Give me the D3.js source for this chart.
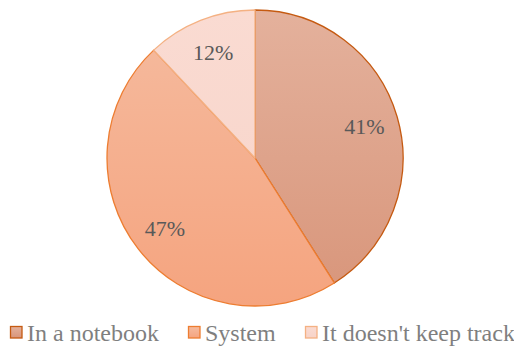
<!DOCTYPE html>
<html>
<head>
<meta charset="utf-8">
<script src="https://cdn.jsdelivr.net/npm/d3@7"></script>
<style>
  body { margin: 0; background: #fff; }
  svg { display: block; }
</style>
</head>
<body>
<div id="chart"></div>
<script>
// chart data
var categories = ["In a notebook", "System", "It doesn't keep track"];
var values = [41, 47, 12];
var labels = ["41%", "47%", "12%"];

var fillTop = ["#e4b19c", "#f5bb9f", "#fadbd2"];
var fillBottom = ["#d8957a", "#f5a47f", "#f7d3c8"];
var strokes = ["#c55a11", "#ed7d31", "#f4b183"];

var width = 514, height = 349;
var cx = 255, cy = 158, radius = 148;

var svg = d3.select("#chart")
            .append("svg")
            .attr("width", width)
            .attr("height", height);

var defs = svg.append("defs");
categories.forEach(function(c, i) {
  var g = defs.append("linearGradient")
              .attr("id", "grad" + i)
              .attr("gradientUnits", "userSpaceOnUse")
              .attr("x1", 0).attr("y1", -radius)
              .attr("x2", 0).attr("y2", radius);
  g.append("stop").attr("offset", "0%").attr("stop-color", fillTop[i]);
  g.append("stop").attr("offset", "100%").attr("stop-color", fillBottom[i]);

  var lg = defs.append("linearGradient")
              .attr("id", "lgrad" + i)
              .attr("x1", 0).attr("y1", 0)
              .attr("x2", 0).attr("y2", 1);
  lg.append("stop").attr("offset", "0%").attr("stop-color", fillTop[i]);
  lg.append("stop").attr("offset", "100%").attr("stop-color", fillBottom[i]);
});

var pie = d3.pie().sort(null).value(function(d) { return d; });
var arc = d3.arc().innerRadius(0).outerRadius(radius);
var labelArc = d3.arc().innerRadius(radius * 0.77).outerRadius(radius * 0.77);

var g = svg.append("g").attr("transform", "translate(" + cx + "," + cy + ")");
var arcs = pie(values);

g.selectAll("path")
  .data(arcs)
  .enter().append("path")
  .attr("d", arc)
  .attr("fill", function(d, i) { return "url(#grad" + i + ")"; })
  .attr("stroke", function(d, i) { return strokes[i]; })
  .attr("stroke-width", 1.3)
  .attr("stroke-linejoin", "round");

g.selectAll("text")
  .data(arcs)
  .enter().append("text")
  .attr("transform", function(d) { return "translate(" + labelArc.centroid(d) + ")"; })
  .attr("text-anchor", "middle")
  .attr("dy", "0.35em")
  .style("font-family", "'Liberation Serif', 'Times New Roman', serif")
  .style("font-size", "22px")
  .style("fill", "#595959")
  .text(function(d, i) { return labels[i]; });

// legend
var legendX = [10, 188, 305];
var legend = svg.append("g").selectAll("g")
  .data(categories)
  .enter().append("g")
  .attr("transform", function(d, i) { return "translate(" + legendX[i] + ",326)"; });

legend.append("rect")
  .attr("x", 0.5).attr("y", 0.5)
  .attr("width", 11.5).attr("height", 11.5)
  .attr("fill", function(d, i) { return "url(#lgrad" + i + ")"; })
  .attr("stroke", function(d, i) { return strokes[i]; })
  .attr("stroke-width", 1.3);

legend.append("text")
  .attr("x", 17)
  .attr("y", 15)
  .style("font-family", "'Liberation Serif', 'Times New Roman', serif")
  .style("font-size", "24px")
  .style("fill", "#7f7f7f")
  .text(function(d) { return d; });
</script>
</body>
</html>
